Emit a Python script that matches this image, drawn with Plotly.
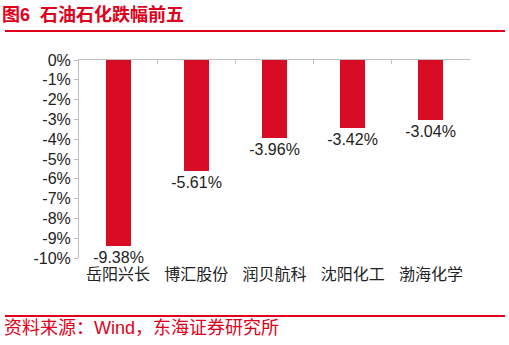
import plotly.graph_objects as go

categories = ["岳阳兴长", "博汇股份", "润贝航科", "沈阳化工", "渤海化学"]
values = [-9.38, -5.61, -3.96, -3.42, -3.04]
labels = [f"{v:.2f}%" for v in values]
yticks = list(range(0, -11, -1))
ytick_text = [f"{t}%" for t in yticks]

RED = "#D90C25"
TXT_RED = "#E0001B"
GRID = "#BFBFBF"
FONT = "Liberation Sans, Arial, Noto Sans CJK SC, sans-serif"

fig = go.Figure()
fig.add_trace(go.Bar(
    x=list(range(len(categories))), y=values,
    marker=dict(color=RED, line=dict(width=0)),
    width=0.32,
    text=labels, textposition="outside", constraintext="none",
    textfont=dict(size=16, color="#222222", family=FONT),
    cliponaxis=False,
))
# invisible trace to anchor top axis
fig.add_trace(go.Scatter(x=[0], y=[0], xaxis="x2", mode="markers",
                         marker=dict(opacity=0), hoverinfo="skip", showlegend=False))

fig.update_layout(
    width=509, height=345,
    margin=dict(l=79, r=39, t=60, b=87),
    paper_bgcolor="white", plot_bgcolor="white",
    showlegend=False,
    font=dict(family=FONT, size=16, color="#222222"),
    xaxis=dict(
        type="linear", range=[-0.5, 4.5],
        tickmode="array", tickvals=list(range(len(categories))), ticktext=categories,
        showline=False, ticks="", showgrid=False, zeroline=False,
        tickfont=dict(size=16, color="#222222", family=FONT),
        ticklabelstandoff=5,
    ),
    xaxis2=dict(
        type="linear", range=[-0.5, 4.5], overlaying="x", side="top", anchor="y",
        tickmode="array", tickvals=[0.5, 1.5, 2.5, 3.5, 4.5],
        showticklabels=False, showline=True, linecolor=GRID, linewidth=1,
        ticks="inside", ticklen=4, tickcolor=GRID, showgrid=False, zeroline=False,
    ),
    yaxis=dict(
        range=[-10, 0], tickmode="array", tickvals=yticks, ticktext=ytick_text,
        showline=True, linecolor=GRID, linewidth=1,
        ticks="outside", ticklen=4, tickcolor=GRID,
        showgrid=False, zeroline=False,
        tickfont=dict(size=16, color="#222222", family=FONT),
    ),
    bargap=0,
)

# title
fig.add_annotation(text="<b>图6  石油石化跌幅前五</b>", xref="paper", yref="paper",
                   x=-79/391, y=1 + 45/198, xanchor="left", yanchor="middle",
                   showarrow=False, font=dict(size=18, color=TXT_RED, family=FONT))
fig.add_shape(type="line", xref="paper", yref="paper",
              x0=-74/391, x1=(505-79)/391, y0=1 + 29/198, y1=1 + 29/198,
              line=dict(color=TXT_RED, width=2))
# footer
fig.add_shape(type="line", xref="paper", yref="paper",
              x0=-74/391, x1=(505-79)/391, y0=-(316-258)/198, y1=-(316-258)/198,
              line=dict(color=TXT_RED, width=2))
fig.add_annotation(text="资料来源：Wind，东海证券研究所", xref="paper", yref="paper",
                   x=-77/391, y=-(328-258)/198, xanchor="left", yanchor="middle",
                   showarrow=False, font=dict(size=18, color=TXT_RED, family=FONT))

fig.write_html("out.html")
